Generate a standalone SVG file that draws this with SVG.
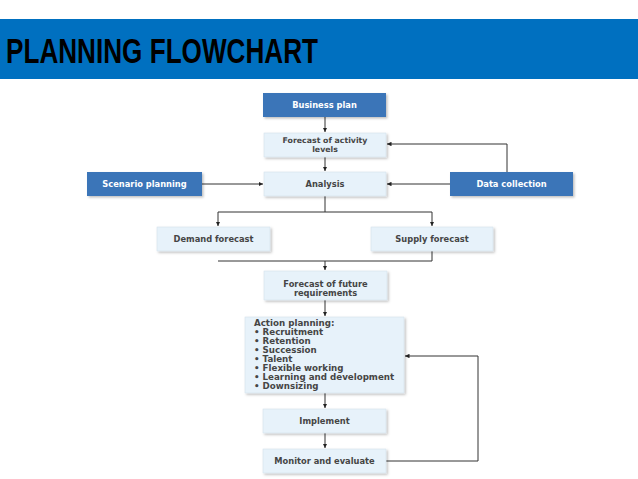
<svg xmlns="http://www.w3.org/2000/svg" width="638" height="479" viewBox="0 0 638 479">
<style>
.dark{fill:#3a74b8}
.light{fill:#e7f2fa;stroke:#d4e2ec;stroke-width:0.6}
.lbl{font-family:"DejaVu Sans",sans-serif;font-weight:bold;font-size:8.3px;text-anchor:middle}
.sm{font-size:7.8px}
.w{fill:#ffffff}
.g{fill:#454545}
.lst{font-family:"DejaVu Sans",sans-serif;font-weight:bold;font-size:8.7px;fill:#454545}
.ln{fill:none;stroke:#333;stroke-width:1}
</style>
<defs>
<filter id="sh" x="-10%" y="-20%" width="125%" height="150%">
<feDropShadow dx="1.5" dy="1.5" stdDeviation="1.2" flood-color="#000" flood-opacity="0.25"/>
</filter>
<marker id="ar" viewBox="0 0 6 6" refX="6" refY="3" markerWidth="4.5" markerHeight="4.5" orient="auto" markerUnits="userSpaceOnUse">
<path d="M0,0 L6,3 L0,6 z" fill="#222"/>
</marker>
</defs>
<rect x="0" y="19" width="638" height="60" fill="#0070c0"/>
<text x="6" y="63" font-family="Liberation Sans,Arial,sans-serif" font-weight="bold" font-size="35" textLength="312" lengthAdjust="spacingAndGlyphs" fill="#000">PLANNING FLOWCHART</text>

<g id="connectors">
<path class="ln" d="M325 117 V132" marker-end="url(#ar)"/>
<path class="ln" d="M325 157 V171" marker-end="url(#ar)"/>
<path class="ln" d="M202 184 H263" marker-end="url(#ar)"/>
<path class="ln" d="M450 184 H387" marker-end="url(#ar)"/>
<path class="ln" d="M507 172 V144 H387" marker-end="url(#ar)"/>
<path class="ln" d="M325 196 V212 M218 212 H432"/>
<path class="ln" d="M218 212 V226" marker-end="url(#ar)"/>
<path class="ln" d="M432 212 V226" marker-end="url(#ar)"/>
<path class="ln" d="M432 251 V261 H218"/>
<path class="ln" d="M325 261 V270" marker-end="url(#ar)"/>
<path class="ln" d="M325 300 V316" marker-end="url(#ar)"/>
<path class="ln" d="M325 393 V408" marker-end="url(#ar)"/>
<path class="ln" d="M325 433 V448" marker-end="url(#ar)"/>
<path class="ln" d="M386 461 H478 V356 H405" marker-end="url(#ar)"/>
</g>

<g id="business-plan">
<rect class="dark" x="263" y="93" width="123" height="24" filter="url(#sh)"/>
<text class="lbl w" x="324.5" y="108">Business plan</text>
</g>
<g id="forecast-activity">
<rect class="light" x="264" y="133" width="122" height="24" filter="url(#sh)"/>
<text class="lbl g sm" x="325" y="142.5">Forecast of activity</text>
<text class="lbl g sm" x="325" y="152">levels</text>
</g>
<g id="scenario-planning">
<rect class="dark" x="87" y="172" width="115" height="24" filter="url(#sh)"/>
<text class="lbl w" x="144.5" y="187">Scenario planning</text>
</g>
<g id="analysis">
<rect class="light" x="264" y="172" width="122" height="24" filter="url(#sh)"/>
<text class="lbl g" x="325" y="187">Analysis</text>
</g>
<g id="data-collection">
<rect class="dark" x="450" y="172" width="123" height="24" filter="url(#sh)"/>
<text class="lbl w" x="511.5" y="187">Data collection</text>
</g>
<g id="demand-forecast">
<rect class="light" x="157" y="227" width="113" height="24" filter="url(#sh)"/>
<text class="lbl g" x="213.5" y="242">Demand forecast</text>
</g>
<g id="supply-forecast">
<rect class="light" x="371" y="227" width="122" height="24" filter="url(#sh)"/>
<text class="lbl g" x="432" y="242">Supply forecast</text>
</g>
<g id="forecast-future">
<rect class="light" x="264" y="271" width="123" height="29" filter="url(#sh)"/>
<text class="lbl g" x="325.5" y="287">Forecast of future</text>
<text class="lbl g" x="325.5" y="296">requirements</text>
</g>
<g id="action-planning">
<rect class="light" x="245" y="317" width="159" height="76" filter="url(#sh)"/>
<text class="lst" x="254" y="326">Action planning:</text>
<text class="lst" x="254" y="335">• Recruitment</text>
<text class="lst" x="254" y="344">• Retention</text>
<text class="lst" x="254" y="353">• Succession</text>
<text class="lst" x="254" y="362">• Talent</text>
<text class="lst" x="254" y="371">• Flexible working</text>
<text class="lst" x="254" y="380">• Learning and development</text>
<text class="lst" x="254" y="389">• Downsizing</text>
</g>
<g id="implement">
<rect class="light" x="263" y="409" width="123" height="24" filter="url(#sh)"/>
<text class="lbl g" x="324.5" y="424">Implement</text>
</g>
<g id="monitor">
<rect class="light" x="263" y="449" width="123" height="24" filter="url(#sh)"/>
<text class="lbl g" x="324.5" y="464">Monitor and evaluate</text>
</g>
</svg>
